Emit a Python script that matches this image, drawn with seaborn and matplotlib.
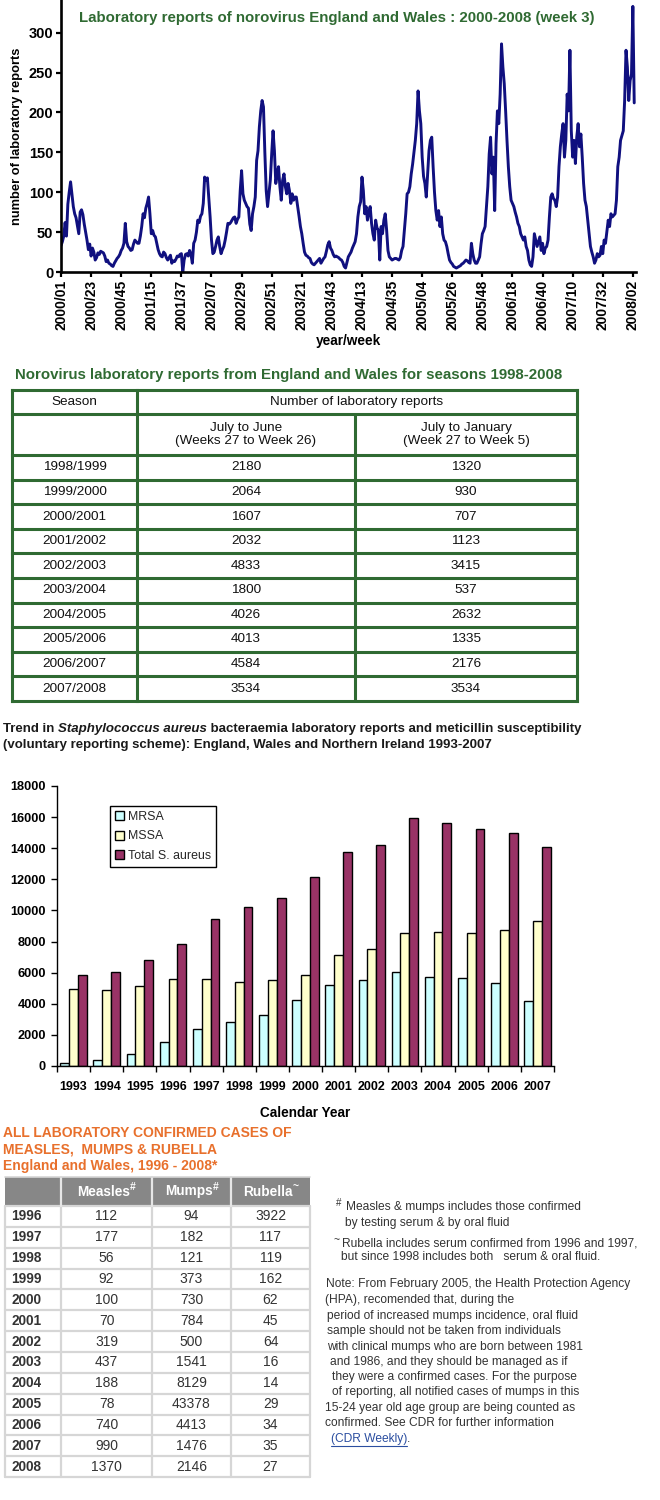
import numpy as np
import pandas as pd
import matplotlib
matplotlib.use("Agg")
import matplotlib.pyplot as plt
import seaborn as sns

sns.set_theme(style="white")
plt.rcParams["font.family"] = ["Liberation Sans", "DejaVu Sans"]

W, H = 660, 1500
GREEN = "#2f6a32"
NAVY = "#10107f"
ORANGE = "#e8702c"
TXT = "#333333"

# ---------------------------------------------------------------------------
# Data: weekly norovirus laboratory reports
# ---------------------------------------------------------------------------
noro_2000 = [33, 38, 45, 62, 45, 85, 100, 113, 98, 82, 73, 68, 58, 48, 75, 78, 72, 60, 50, 40,
             28, 35, 20, 30, 25, 15, 18, 24, 22, 26, 25, 24, 20, 13, 15, 11, 10, 8, 7, 11,
             14, 17, 19, 22, 27, 30, 36, 61, 38, 32, 30, 27]
noro_2001 = [28, 35, 40, 38, 36, 36, 45, 57, 73, 68, 80, 86, 94, 73, 48, 52, 46, 44, 36, 28,
             23, 20, 19, 25, 23, 18, 15, 18, 21, 11, 14, 13, 16, 20, 19, 22, 23, 0, 15, 22,
             23, 20, 27, 22, 11, 36, 40, 50, 65, 62, 70, 73]
noro_2002 = [86, 119, 115, 118, 94, 69, 40, 23, 25, 32, 40, 44, 32, 23, 28, 32, 40, 50, 61, 60,
             62, 65, 68, 69, 61, 66, 69, 102, 127, 98, 90, 86, 82, 80, 60, 52, 73, 82, 94, 140,
             152, 182, 202, 215, 207, 150, 102, 82, 98, 115, 148, 177]
noro_2003 = [152, 111, 123, 132, 107, 90, 115, 123, 107, 98, 111, 102, 86, 98, 90, 94, 94, 82, 70, 57,
             48, 36, 25, 21, 20, 18, 17, 12, 10, 9, 11, 13, 15, 17, 11, 14, 17, 19, 26, 34,
             38, 30, 27, 22, 19, 20, 19, 18, 16, 15, 12, 7]
noro_2004 = [5, 12, 19, 22, 25, 30, 34, 38, 48, 69, 82, 88, 119, 102, 73, 82, 65, 75, 82, 61,
             48, 40, 65, 55, 53, 15, 57, 48, 65, 73, 53, 27, 19, 17, 15, 16, 17, 17, 16, 15,
             18, 27, 32, 53, 73, 98, 100, 107, 123, 135, 150, 165, 186]
noro_2005 = [227, 202, 186, 144, 120, 111, 94, 123, 152, 165, 169, 132, 100, 77, 65, 77, 57, 69, 48, 40,
             38, 32, 23, 15, 12, 10, 7, 6, 5, 6, 7, 8, 10, 11, 13, 15, 14, 12, 11, 36,
             23, 15, 11, 11, 15, 19, 35, 48, 52, 57, 82, 107]
noro_2006 = [148, 169, 123, 144, 77, 161, 202, 186, 223, 286, 257, 236, 202, 165, 132, 107, 90, 86, 82, 75,
             69, 61, 57, 48, 44, 40, 44, 32, 27, 15, 9, 7, 19, 48, 40, 32, 38, 44, 27, 36,
             23, 30, 32, 40, 69, 94, 98, 92, 90, 82, 94, 132]
noro_2007 = [157, 173, 186, 144, 165, 223, 202, 278, 177, 144, 165, 136, 169, 186, 157, 173, 144, 111, 90, 82,
             65, 48, 32, 25, 19, 11, 15, 23, 19, 21, 32, 23, 40, 36, 50, 65, 57, 73, 69, 71,
             73, 90, 132, 144, 165, 171, 177, 215, 278, 257, 215, 240]
noro_2008 = [248, 333, 212]

noro_by_year = [(2000, noro_2000), (2001, noro_2001), (2002, noro_2002), (2003, noro_2003),
                (2004, noro_2004), (2005, noro_2005), (2006, noro_2006), (2007, noro_2007),
                (2008, noro_2008)]
week_labels = [f"{yr}/{wk:02d}" for yr, vals in noro_by_year for wk in range(1, len(vals) + 1)]
noro_counts = [v for _, vals in noro_by_year for v in vals]

# Norovirus seasons table
seasons = ["1998/1999", "1999/2000", "2000/2001", "2001/2002", "2002/2003",
           "2003/2004", "2004/2005", "2005/2006", "2006/2007", "2007/2008"]
july_june = [2180, 2064, 1607, 2032, 4833, 1800, 4026, 4013, 4584, 3534]
july_january = [1320, 930, 707, 1123, 3415, 537, 2632, 1335, 2176, 3534]

# S. aureus bacteraemia reports
staph_years = [str(y) for y in range(1993, 2008)]
mrsa = [210, 400, 790, 1540, 2400, 2850, 3300, 4270, 5230, 5560, 6070, 5750, 5680, 5360, 4200]
mssa = [4980, 4910, 5170, 5620, 5620, 5430, 5560, 5880, 7160, 7490, 8520, 8640, 8580, 8770, 9290]
total_saureus = [5880, 6070, 6800, 7870, 9480, 10190, 10770, 12120, 13730, 14180,
                 15920, 15590, 15210, 14950, 14110]

# Measles, mumps, rubella
mmr_years = ["1996", "1997", "1998", "1999", "2000", "2001", "2002",
             "2003", "2004", "2005", "2006", "2007", "2008"]
measles = [112, 177, 56, 92, 100, 70, 319, 437, 188, 78, 740, 990, 1370]
mumps = [94, 182, 121, 373, 730, 784, 500, 1541, 8129, 43378, 4413, 1476, 2146]
rubella = [3922, 117, 119, 162, 62, 45, 64, 16, 14, 29, 34, 35, 27]

# ---------------------------------------------------------------------------
fig = plt.figure(figsize=(W / 100, H / 100), dpi=100)
fig.patch.set_facecolor("white")


def px_axes(left, top, right, bottom):
    return fig.add_axes([left / W, 1 - bottom / H, (right - left) / W, (bottom - top) / H])


# ---- 1. norovirus weekly line chart ---------------------------------------
ax1 = px_axes(61, 0, 636, 272)
noro = pd.DataFrame({"week": np.arange(len(noro_counts)), "reports": noro_counts})
sns.lineplot(data=noro, x="week", y="reports", ax=ax1, color=NAVY, linewidth=2.1)
ax1.set_xlim(0, 420.3)
ax1.set_ylim(0, 341)
ax1.set_yticks(range(0, 301, 50))
ax1.set_yticklabels([str(v) for v in range(0, 301, 50)], fontweight="bold", fontsize=10.5)
tick_pos = list(range(0, len(week_labels), 22))
ax1.set_xticks(tick_pos)
ax1.set_xticklabels([week_labels[i] for i in tick_pos], rotation=90, fontweight="bold", fontsize=10)
ax1.tick_params(axis="both", direction="out", length=3.5, width=1.6, color="black", labelcolor="black")
ax1.tick_params(axis="x", pad=2, bottom=True)
ax1.tick_params(axis="y", pad=2, left=True)
for s in ["top", "right"]:
    ax1.spines[s].set_visible(False)
for s in ["left", "bottom"]:
    ax1.spines[s].set_linewidth(1.9)
    ax1.spines[s].set_color("black")
ax1.set_xlabel("year/week", fontweight="bold", fontsize=9.8, color="black", labelpad=3)
ax1.set_ylabel("number of laboratory reports", fontweight="bold", fontsize=9.3, color="black", labelpad=4)
ax1.set_facecolor("white")

# ---- 3. S. aureus bar chart ------------------------------------------------
ax2 = px_axes(57, 786, 554, 1066)
staph = pd.DataFrame({
    "year": staph_years * 3,
    "count": mrsa + mssa + total_saureus,
    "type": ["MRSA"] * len(mrsa) + ["MSSA"] * len(mssa) + ["Total S. aureus"] * len(total_saureus),
})
sns.barplot(data=staph, x="year", y="count", hue="type",
            palette=["#ccffff", "#ffffcc", "#993366"], saturation=1,
            edgecolor="black", linewidth=1.0, width=0.8, ax=ax2)
ax2.set_xlim(-0.5, len(staph_years) - 0.5)
ax2.set_ylim(0, 18000)
ax2.set_yticks(range(0, 18001, 2000))
ax2.set_yticklabels([str(v) for v in range(0, 18001, 2000)], fontweight="bold", fontsize=9.2)
ax2.set_xticks(np.arange(-0.5, len(staph_years), 1))
ax2.set_xticklabels([])
ax2.set_xticks(np.arange(len(staph_years)), minor=True)
ax2.set_xticklabels(staph_years, minor=True, fontweight="bold", fontsize=9)
ax2.tick_params(axis="x", which="major", direction="out", length=4, width=1, color="black", bottom=True)
ax2.tick_params(axis="x", which="minor", length=0, pad=11, labelcolor="black")
ax2.tick_params(axis="y", direction="out", length=4, width=1, color="black", left=True, pad=4,
                labelcolor="black")
for s in ["top", "right"]:
    ax2.spines[s].set_visible(False)
for s in ["left", "bottom"]:
    ax2.spines[s].set_linewidth(1.0)
    ax2.spines[s].set_color("black")
ax2.set_xlabel("Calendar Year", fontweight="bold", fontsize=9.8, color="black", labelpad=9)
ax2.set_ylabel("")
handles, labels = ax2.get_legend_handles_labels()
ax2.legend(handles, labels, loc="upper left", bbox_to_anchor=(110 / W, 1 - 806 / H),
           bbox_transform=fig.transFigure, frameon=True, fancybox=False, edgecolor="black",
           framealpha=1, borderpad=0.4, borderaxespad=0, handlelength=0.75, handleheight=0.75,
           handletextpad=0.3, labelspacing=0.6, fontsize=8.9)
ax2.get_legend().get_frame().set_linewidth(1.0)

# ---- overlay in pixel coordinates for titles and tables --------------------
ov = fig.add_axes([0, 0, 1, 1])
ov.set_xlim(0, W)
ov.set_ylim(H, 0)
ov.axis("off")
ov.patch.set_alpha(0)
renderer = fig.canvas.get_renderer()


def text_width(s, **kw):
    t = ov.text(0, 0, "|" + s + "|", **kw)
    w1 = t.get_window_extent(renderer).width
    t.remove()
    t = ov.text(0, 0, "||", **kw)
    w2 = t.get_window_extent(renderer).width
    t.remove()
    return w1 - w2


def runs(x, y, parts, **kw):
    for s, extra in parts:
        style = dict(kw, **extra)
        ov.text(x, y, s, ha="left", va="center", **style)
        x += text_width(s, **style)
    return x


# chart 1 title
ov.text(337, 18, "Laboratory reports of norovirus England and Wales : 2000-2008 (week 3)",
        ha="center", va="center", color=GREEN, fontweight="bold", fontsize=10.8)

# ---- 2. norovirus seasons table -------------------------------------------
ov.text(15, 375, "Norovirus laboratory reports from England and Wales for seasons 1998-2008",
        ha="left", va="center", color=GREEN, fontweight="bold", fontsize=10.8)
t_left, t_c1, t_c2, t_right = 12, 137, 355, 577
t_top, t_h1, t_h2, row_h = 390, 24, 41, 24.6
row_lines = [t_top, t_top + t_h1, t_top + t_h1 + t_h2]
for i in range(len(seasons)):
    row_lines.append(row_lines[2] + (i + 1) * row_h)
t_bottom = row_lines[-1]
for yl in row_lines:
    ov.plot([t_left, t_right], [yl, yl], color=GREEN, lw=2.2, solid_capstyle="projecting")
for xl in [t_left, t_c1, t_right]:
    ov.plot([xl, xl], [t_top, t_bottom], color=GREEN, lw=2.2, solid_capstyle="projecting")
ov.plot([t_c2, t_c2], [row_lines[1], t_bottom], color=GREEN, lw=2.2)
tkw = dict(ha="center", va="center", color="#111111", fontsize=9.7)
ov.text((t_left + t_c1) / 2, (row_lines[0] + row_lines[1]) / 2, "Season", **tkw)
ov.text((t_c1 + t_right) / 2, (row_lines[0] + row_lines[1]) / 2, "Number of laboratory reports", **tkw)
hy = (row_lines[1] + row_lines[2]) / 2
ov.text((t_c1 + t_c2) / 2, hy, "July to June\n(Weeks 27 to Week 26)", linespacing=1.05, **tkw)
ov.text((t_c2 + t_right) / 2, hy, "July to January\n(Week 27 to Week 5)", linespacing=1.05, **tkw)
for i, (sea, a, b) in enumerate(zip(seasons, july_june, july_january)):
    yc = (row_lines[2 + i] + row_lines[3 + i]) / 2
    ov.text((t_left + t_c1) / 2, yc, sea, **tkw)
    ov.text((t_c1 + t_c2) / 2, yc, str(a), **tkw)
    ov.text((t_c2 + t_right) / 2, yc, str(b), **tkw)

# ---- bar chart title -------------------------------------------------------
bkw = dict(color="#1a1a1a", fontweight="bold", fontsize=9.5)
runs(3, 729, [("Trend in ", {}), ("Staphylococcus aureus", {"fontstyle": "italic"}),
              (" bacteraemia laboratory reports and meticillin susceptibility", {})], **bkw)
ov.text(3, 745, "(voluntary reporting scheme): England, Wales and Northern Ireland 1993-2007",
        ha="left", va="center", **bkw)

# ---- 4. measles / mumps / rubella table ------------------------------------
okw = dict(color=ORANGE, fontweight="bold", fontsize=10, ha="left", va="center")
ov.text(3, 1133, "ALL LABORATORY CONFIRMED CASES OF", **okw)
ov.text(3, 1149, "MEASLES,  MUMPS & RUBELLA", **okw)
ov.text(3, 1166, "England and Wales, 1996 - 2008*", **okw)

m_cols = [5, 61, 152, 231, 310]
m_top, m_head, m_row = 1177, 29, 20.85
m_lines = [m_top, m_top + m_head] + [m_top + m_head + (i + 1) * m_row for i in range(len(mmr_years))]
ov.add_patch(plt.Rectangle((m_cols[0], m_top), m_cols[-1] - m_cols[0], m_head,
                           facecolor="#878787", edgecolor="none"))
for yl in m_lines[1:]:
    ov.plot([m_cols[0], m_cols[-1]], [yl, yl], color="#d6d6d6", lw=1.6)
for xl in m_cols:
    ov.plot([xl, xl], [m_lines[1], m_lines[-1]], color="#d6d6d6", lw=1.6)
for xl in m_cols[1:-1]:
    ov.plot([xl, xl], [m_top, m_lines[1]], color="#e6e6e6", lw=1.6)
ov.plot([m_cols[0], m_cols[-1]], [m_top, m_top], color="#d6d6d6", lw=1.2)

hkw = dict(color="white", fontweight="bold", fontsize=9.8)
for (name, sup), c0, c1 in zip([("Measles", "#"), ("Mumps", "#"), ("Rubella", "~")],
                               m_cols[1:-1], m_cols[2:]):
    w_main = text_width(name, **hkw)
    w_sup = text_width(sup, color="white", fontweight="bold", fontsize=7.5)
    x0 = (c0 + c1) / 2 - (w_main + w_sup) / 2
    yh = (m_lines[0] + m_lines[1]) / 2
    ov.text(x0, yh, name, ha="left", va="center", **hkw)
    ov.text(x0 + w_main, yh - 5, sup, ha="left", va="center", color="white", fontweight="bold", fontsize=7.5)

for i, yr in enumerate(mmr_years):
    yc = (m_lines[1 + i] + m_lines[2 + i]) / 2
    ov.text(11, yc, yr, ha="left", va="center", color=TXT, fontweight="bold", fontsize=9.8)
    for col, vals in enumerate([measles, mumps, rubella]):
        ov.text((m_cols[1 + col] + m_cols[2 + col]) / 2, yc, str(vals[i]),
                ha="center", va="center", color=TXT, fontsize=10)

# ---- notes -----------------------------------------------------------------
nkw = dict(color=TXT, fontsize=8.65, ha="left", va="center")
ov.text(336, 1203, "#", color=TXT, fontsize=7, ha="left", va="center")
ov.text(346, 1207, "Measles & mumps includes those confirmed", **nkw)
ov.text(345, 1223, "by testing serum & by oral fluid", **nkw)
ov.text(334, 1240, "~", color=TXT, fontsize=7.5, ha="left", va="center")
ov.text(342, 1243, "Rubella includes serum confirmed from 1996 and 1997,", **nkw)
ov.text(341, 1257, "but since 1998 includes both   serum & oral fluid.", **nkw)
note_lines = [
    (326, 1284, "Note: From February 2005, the Health Protection Agency"),
    (325, 1300, "(HPA), recomended that, during the"),
    (327, 1316, "period of increased mumps incidence, oral fluid"),
    (327, 1331, "sample should not be taken from individuals"),
    (327, 1347, "with clinical mumps who are born between 1981"),
    (330, 1362, "and 1986, and they should be managed as if"),
    (332, 1377, "they were a confirmed cases. For the purpose"),
    (332, 1392, "of reporting, all notified cases of mumps in this"),
    (325, 1408, "15-24 year old age group are being counted as"),
    (325, 1423, "confirmed. See CDR for further information"),
]
for x, y, s in note_lines:
    ov.text(x, y, s, **nkw)
link = "(CDR Weekly)"
lkw = dict(color="#2b4ea0", fontsize=8.65, ha="left", va="center")
ov.text(331, 1439, link, **lkw)
lw_ = text_width(link, fontsize=8.65)
ov.plot([331, 331 + lw_], [1446, 1446], color="#2b4ea0", lw=0.8)
ov.text(331 + lw_, 1439, ".", **nkw)

fig.savefig("out.png", dpi=100, facecolor="white")
